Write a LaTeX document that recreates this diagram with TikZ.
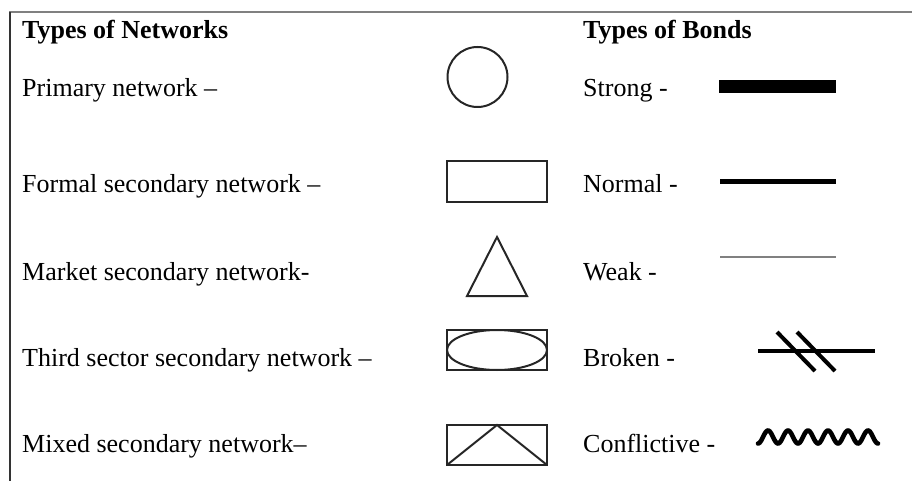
\documentclass[tikz,border=0pt]{standalone}
\usepackage{fontspec}
\setmainfont{Liberation Serif}
\begin{document}
\begin{tikzpicture}[x=1pt,y=-1pt,
  lbl/.style={anchor=base west, inner sep=0pt, font=\fontsize{26}{30}\selectfont},
  hdr/.style={lbl, font=\fontsize{26}{30}\selectfont\bfseries},
  sym/.style={draw=black!85, line width=2pt},
  bond/.style={black, line cap=butt}]
\useasboundingbox (0,0) rectangle (912,481);
% frame
\draw[black!50, line width=2.4pt] (9,12) -- (912,12);
\draw[black!80, line width=2pt] (10,12) -- (10,481);
% headers
\node[hdr] (hn) at (22,39) {Types of Networks};
\node[hdr] (hb) at (583,39) {Types of Bonds};
% network labels
\node[lbl] (n1) at (22,97) {Primary network –};
\node[lbl] (n2) at (22,193) {Formal secondary network –};
\node[lbl] (n3) at (22,280) {Market secondary network-};
\node[lbl] (n4) at (22,366) {Third sector secondary network –};
\node[lbl] (n5) at (22,452) {Mixed secondary network–};
% bond labels
\node[lbl] (b1) at (583,97) {Strong -};
\node[lbl] (b2) at (583,193) {Normal -};
\node[lbl] (b3) at (583,280) {Weak -};
\node[lbl] (b4) at (583,366) {Broken -};
\node[lbl] (b5) at (583,452) {Conflictive -};
% network symbols
\draw[sym] (477.5,77) circle (30);
\draw[sym] (447,161) rectangle (547,202);
\draw[sym, line join=miter] (497,237) -- (527,296) -- (467,296) -- cycle;
\draw[sym] (447,330) rectangle (547,370);
\draw[sym] (497,350) ellipse (50 and 20);
\draw[sym] (447,425) rectangle (547,465);
\draw[sym] (447,465) -- (497,425) -- (547,465);
% bond symbols
\draw[bond, line width=13pt] (719,86.5) -- (836,86.5);
\draw[bond, line width=5pt] (720,182) -- (836,182);
\draw[bond, black!50, line width=2.8pt] (720,257) -- (836,257);
\draw[bond, line width=4pt] (758,351) -- (875,351);
\draw[bond, line width=4pt] (777,332) -- (815,371);
\draw[bond, line width=4pt] (797,332) -- (835,371);
\draw[black, line width=4.6pt, line cap=round, line join=round]
  plot[domain=0:6, samples=150, smooth] ({758+\x*20}, {437-6.5*sin(\x*360-90)});
\end{tikzpicture}
\end{document}
